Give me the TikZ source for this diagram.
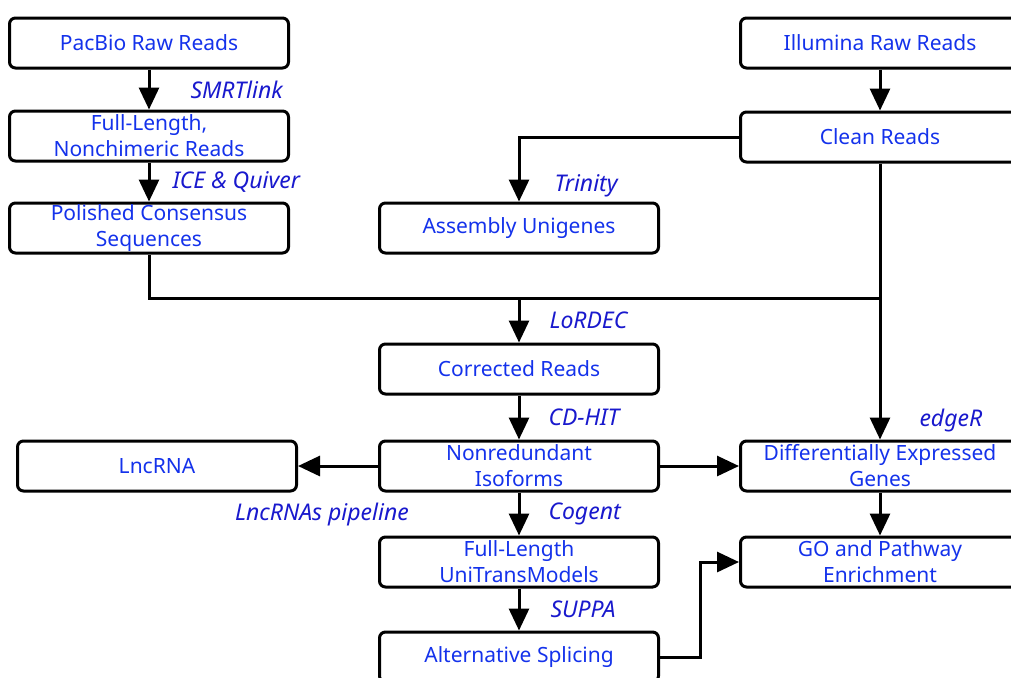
\documentclass[tikz,border=0pt]{standalone}
\usepackage{fontspec}
\setmainfont{Noto Sans}
\usetikzlibrary{arrows.meta}
\definecolor{txtblue}{RGB}{20,50,235}
\definecolor{lblblue}{RGB}{25,25,205}
\begin{document}
\begin{tikzpicture}[x=0.5pt,y=-0.5pt,
  box/.style={rounded corners=3pt,draw,line width=1.5pt,minimum width=139.5pt,minimum height=25pt,inner sep=0pt,align=center,text=txtblue,font=\fontsize{10.5}{13}\selectfont},
  lbl/.style={font=\fontsize{11.5}{13}\selectfont\itshape,text=lblblue,inner sep=0pt},
  wire/.style={line width=1.5pt},
  arr/.style={wire,-{Triangle[length=11pt,width=10pt]}}]
\useasboundingbox (0,0) rectangle (1011,677);
\clip (0,0) rectangle (1011,677);
% PacBio branch
\node[box] (pacbio) at (149,43) {PacBio Raw Reads};
\node[box] (flnc) at (149,136) {Full-Length,\\Nonchimeric Reads};
\node[box] (polished) at (149,228) {Polished Consensus\\Sequences};
% Illumina branch
\node[box] (illumina) at (880,43) {Illumina Raw Reads};
\node[box] (clean) at (880,137) {Clean Reads};
\node[box] (unigenes) at (519,228) {Assembly Unigenes};
% merged pipeline
\node[box] (corrected) at (519,369) {Corrected Reads};
\node[box] (isoforms) at (519,466) {Nonredundant\\Isoforms};
\node[box] (lncrna) at (157,466) {LncRNA};
\node[box] (deg) at (880,466) {Differentially Expressed\\Genes};
\node[box] (unitrans) at (519,562) {Full-Length\\UniTransModels};
\node[box] (go) at (880,562) {GO and Pathway\\Enrichment};
\node[box] (splicing) at (519,657) {Alternative Splicing};
\coordinate (join) at (519,298);
\coordinate (cross) at (880,298);
% connectors
\draw[arr] (pacbio) -- node[lbl,right=20pt]{SMRTlink} (flnc);
\draw[arr] (flnc) -- node[lbl,right=11pt]{ICE \& Quiver} (polished);
\draw[arr] (illumina) -- (clean);
\draw[arr] (clean.west) -| node[lbl,pos=0.88,right=17pt]{Trinity} (unigenes.north);
\draw[arr] (clean) -- node[lbl,pos=0.93,right=19pt]{edgeR} (deg);
\draw[wire] (polished) |- (cross);
\draw[arr] (join) -- node[lbl,right=14.5pt]{LoRDEC} (corrected);
\draw[arr] (corrected) -- node[lbl,right=14pt]{CD-HIT} (isoforms);
\draw[arr] (isoforms) -- node[lbl,pos=0.7,below=18pt]{LncRNAs pipeline} (lncrna);
\draw[arr] (isoforms) -- (deg);
\draw[arr] (isoforms) -- node[lbl,right=14pt]{Cogent} (unitrans);
\draw[arr] (unitrans) -- node[lbl,right=15pt]{SUPPA} (splicing);
\draw[arr] (deg) -- (go);
\draw[arr] (splicing.east) -- ++(40,0) |- (go.west);
\end{tikzpicture}
\end{document}
